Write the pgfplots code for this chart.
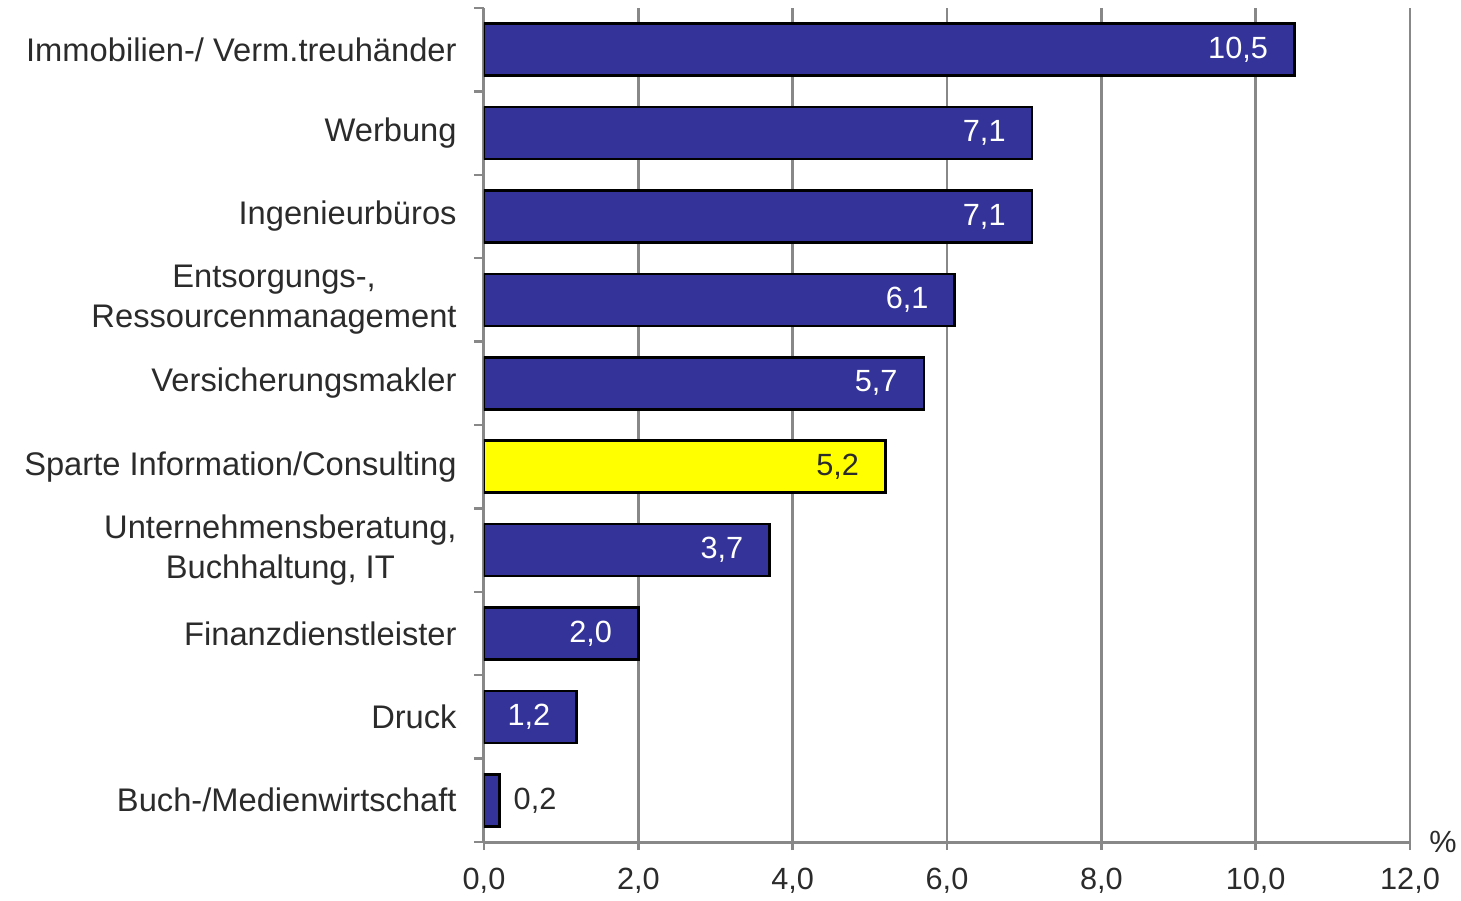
\documentclass[border=0pt]{standalone}
\usepackage{pgfplots}
\pgfplotsset{compat=1.18}
\usepackage{fontspec}
\setmainfont{Liberation Sans}
\definecolor{barblue}{HTML}{333399}
\definecolor{baryellow}{HTML}{FFFF00}
\definecolor{axgray}{HTML}{888888}
\definecolor{txt}{HTML}{2B2B2B}
\begin{document}
\begin{tikzpicture}
\begin{axis}[
  xbar,
  scale only axis,
  width=463bp, height=417bp,
  xmin=0, xmax=12,
  ymin=-0.5, ymax=9.5,
  y dir=reverse,
  xtick={0,2,...,12},
  ytick={0,...,9},
  yticklabels={Immobilien-/ Verm.treuhänder, Werbung, Ingenieurbüros,
    {Entsorgungs-,\\Ressourcenmanagement}, Versicherungsmakler,
    Sparte Information/Consulting, {Unternehmensberatung,\\Buchhaltung, IT},
    Finanzdienstleister, Druck, Buch-/Medienwirtschaft},
  minor ytick={-0.5,0.5,...,9.5},
  axis x line*=bottom, axis y line*=left,
  tick align=outside,
  xtick pos=bottom, ytick pos=left,
  major x tick style={axgray, line width=1.2bp},
  major y tick style={draw=none},
  minor y tick style={axgray, line width=1.2bp},
  major tick length=4bp,
  minor tick length=5bp,
  axis line style={axgray, line width=1.5bp, -},
  xmajorgrids,
  grid style={axgray, line width=1.2bp},
  font=\fontsize{15.4}{17}\selectfont,
  ticklabel style={text=txt},
  yticklabel style={align=center, inner sep=0pt, xshift=-9.5bp,
    font=\fontsize{16.4}{20}\selectfont},
  xticklabel style={inner sep=0pt, yshift=-9bp},
  /pgf/number format/.cd, use comma, fixed, fixed zerofill, precision=1, assume math mode=true,
  /pgfplots/.cd,
  bar width=26bp,
  bar shift=0pt,
]
\addplot[fill=barblue, draw=black, line width=1.3bp,
  nodes near coords, every node near coord/.style={anchor=east, inner sep=0pt, xshift=-12.5bp, text=white}]
  coordinates {(10.5,0) (7.1,1) (7.1,2) (6.1,3) (5.7,4) (3.7,6) (2.0,7) (1.2,8)};
\addplot[fill=baryellow, draw=black, line width=1.3bp,
  nodes near coords, every node near coord/.style={anchor=east, inner sep=0pt, xshift=-12.5bp, text=txt}]
  coordinates {(5.2,5)};
\addplot[fill=barblue, draw=black, line width=1.3bp,
  nodes near coords, every node near coord/.style={anchor=west, inner sep=0pt, xshift=6.5bp, text=txt}]
  coordinates {(0.2,9)};
\coordinate (SW) at (rel axis cs:0,0);
\coordinate (NE) at (rel axis cs:1,1);
\coordinate (SE) at (rel axis cs:1,0);
\end{axis}
\node[text=txt, font=\fontsize{15.4}{17}\selectfont] at ([xshift=16.5bp]SE) {\%};
\pgfresetboundingbox
\path ([xshift=-242bp,yshift=-29.5bp]SW) rectangle ([xshift=25.5bp,yshift=4bp]NE);
\end{tikzpicture}
\end{document}
